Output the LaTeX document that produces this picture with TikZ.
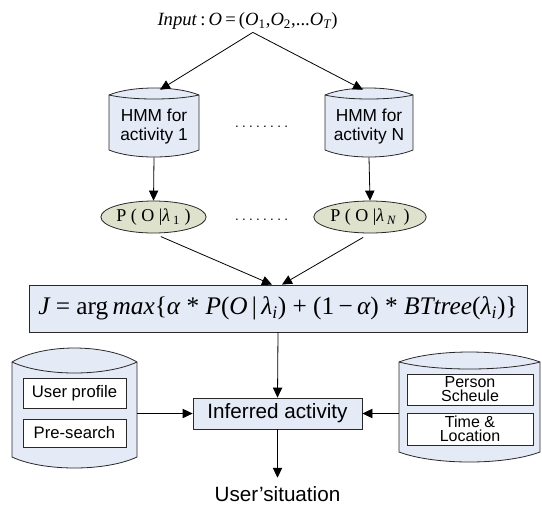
\documentclass[tikz,border=0pt]{standalone}
\usepackage{fontspec}
\setmainfont{Liberation Serif}
\newfontfamily\arial{Liberation Sans}
\usetikzlibrary{shapes.geometric,arrows.meta,fit}
\definecolor{boxblue}{RGB}{228,234,246}
\definecolor{ellgreen}{RGB}{222,225,203}
\definecolor{edge}{RGB}{40,40,40}
\newcommand\storshape[7]{% xl xr yt h1 h2 yb h3
  \filldraw[storfill] (#1,#3) .. controls ({#1+0.25*(#2-#1)},{#3-1.333*#4}) and ({#2-0.25*(#2-#1)},{#3-1.333*#4}) .. (#2,#3)
    -- (#2,#6) .. controls ({#2-0.25*(#2-#1)},{#6+1.333*#7}) and ({#1+0.25*(#2-#1)},{#6+1.333*#7}) .. (#1,#6) -- cycle;
  \draw[storline] (#1,#3) .. controls ({#1+0.25*(#2-#1)},{#3+1.333*#5}) and ({#2-0.25*(#2-#1)},{#3+1.333*#5}) .. (#2,#3);
}
\newcommand\sub[1]{\textsubscript{#1}}
\begin{document}
\begin{tikzpicture}[x=0.75pt,y=-0.75pt,
  storfill/.style={fill=boxblue,draw=edge,line width=0.6pt},
  storline/.style={draw=edge,line width=0.6pt},
  txt/.style={font=\arial\fontsize{13}{14.5}\selectfont,align=center,inner sep=0pt},
  inbox/.style={draw=edge,fill=white,line width=0.6pt,inner sep=0pt,minimum width=77.25pt,align=center},
  rinbox/.style={draw=edge,fill=white,line width=0.6pt,inner sep=0pt,minimum width=94.5pt,align=center,font=\arial\fontsize{12}{10.5}\selectfont},
  blubox/.style={draw=edge,fill=boxblue,line width=0.6pt,inner sep=0pt},
  pell/.style={ellipse,draw=edge,fill=ellgreen,line width=0.6pt,inner sep=0pt,minimum width=72.75pt,minimum height=24pt,font=\fontsize{13.5}{15}\selectfont},
  arr/.style={draw=black,line width=0.6pt,-{Triangle[length=7.5pt,width=7pt]}},
  dots/.style={inner sep=0pt,font=\arial\fontsize{10}{12}\selectfont},
  fitn/.style={inner sep=0pt,draw=none}
]
\useasboundingbox (0,0) rectangle (542,507);

% input
\node[inner sep=2pt,font=\fontsize{14}{16}\selectfont] (inp) at (247.5,21)
  {\itshape Input\/\upshape\,:\,\itshape O\upshape\,=\,(\itshape O\upshape\sub{1},\itshape O\upshape\sub{2},...\itshape O\sub{T}\upshape)};

% HMM cylinders
\storshape{109}{199}{95}{7}{4}{150}{7}
\storshape{325}{413}{95}{7}{4}{150}{7}
\node[fitn,fit={(109,88) (199,157)}] (hmm1) {};
\node[fitn,fit={(325,88) (413,157)}] (hmmN) {};
\node[txt] (hmm1t) at (154,126.5) {HMM for\\activity 1};
\node[txt] (hmmNt) at (369,126.5) {HMM for\\activity N};
\node[dots] (d1) at (261.5,127) {.\hspace{2.5pt}.\hspace{2.5pt}.\hspace{2.5pt}.\hspace{2.5pt}.\hspace{2.5pt}.\hspace{2.5pt}.\hspace{2.5pt}.};

% ellipses
\node[pell] (p1) at (153.5,217) {P ( O |\itshape λ\upshape\,\sub{1} )};
\node[pell] (pN) at (370,217) {P ( O |\itshape λ\,\sub{N}\upshape\, )};
\node[dots] (d2) at (261.5,220) {.\hspace{2.5pt}.\hspace{2.5pt}.\hspace{2.5pt}.\hspace{2.5pt}.\hspace{2.5pt}.\hspace{2.5pt}.\hspace{2.5pt}.};

% J box
\node[blubox,minimum width=373.5pt,minimum height=35.25pt,font=\fontsize{19}{22}\selectfont] (J) at (278,308.5)
  {\itshape J\upshape\ =\ arg\,\itshape max\upshape\{\itshape α\upshape\ *\ \itshape P\upshape(\itshape O\upshape\,|\,\itshape λ\sub{i}\upshape)\ +\ (1\,−\,\itshape α\upshape)\ *\ \itshape BTtree\upshape(\itshape λ\sub{i}\upshape)\}};

% inferred
\node[blubox,minimum width=126.75pt,minimum height=23.25pt,font=\arial\fontsize{15.5}{17}\selectfont] (inf) at (277.5,413.5) {Inferred activity};
\node[inner sep=0pt,anchor=base,font=\arial\fontsize{15.5}{17}\selectfont] (usr) at (277.5,501) {User’situation};

% left storage
\storshape{12}{137}{362}{14}{11}{457}{11}
\node[fitn,fit={(12,348) (137,468)}] (stL) {};
\node[inbox,minimum height=22.5pt,font=\arial\fontsize{12.5}{14}\selectfont] (up) at (74.5,393) {User profile};
\node[inbox,minimum height=21pt,font=\arial\fontsize{12.5}{14}\selectfont] (ps) at (74.5,433) {Pre-search};

% right storage
\storshape{399}{540}{362}{10}{7}{452}{10}
\node[fitn,fit={(399,352) (540,462)}] (stR) {};
\node[rinbox,minimum height=23.25pt] (pers) at (470,389.5) {Person\\Scheule};
\node[rinbox,minimum height=24pt] (tl) at (470,429) {Time \&\\Location};

% connectors
\draw[arr] ([xshift=4pt]inp.south) -- ([xshift=4.5pt,yshift=-1.5pt]hmm1.north);
\draw[arr] ([xshift=4pt]inp.south) -- ([xshift=-4.5pt,yshift=-1.5pt]hmmN.north);
\draw[arr] (hmm1.south) -- (p1.north);
\draw[arr] (hmmN.south) -- (pN.north);
\draw[arr,shorten <=6pt] (p1.south) -- ([xshift=-4.5pt]J.north);
\draw[arr,shorten <=6pt] (pN.south) -- ([xshift=3pt]J.north);
\draw[arr] (J.south) -- (inf.north);
\draw[arr] (stL.east |- inf.west) -- (inf.west);
\draw[arr] (stR.west |- inf.east) -- (inf.east);
\draw[arr,shorten >=6pt] (inf.south) -- (usr.north);
\end{tikzpicture}
\end{document}
